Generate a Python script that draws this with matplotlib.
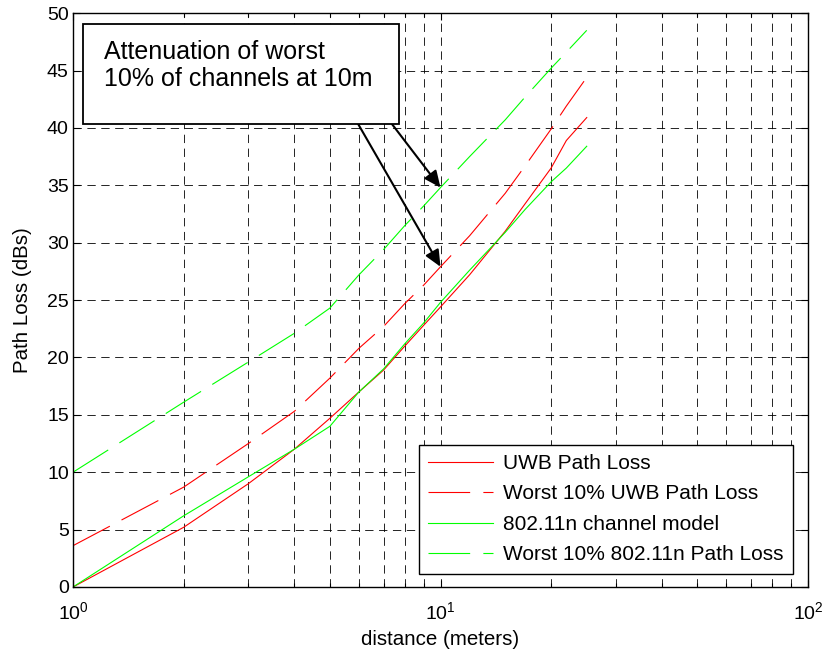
import numpy as np
import matplotlib
matplotlib.use("Agg")
from matplotlib import pyplot as plt
from matplotlib.ticker import LogLocator, MultipleLocator, NullFormatter

plt.rcParams['font.family'] = ['Liberation Sans', 'DejaVu Sans']
plt.rcParams['mathtext.default'] = 'regular'
plt.rcParams['lines.scale_dashes'] = False

# distance in meters
dist = [1, 2, 3, 4, 5, 6, 7, 8, 9, 10, 12, 15, 17, 20, 22, 25]
# path loss in dB
uwb_loss = [0, 5.2, 9.0, 12.0, 14.7, 17.0, 18.9, 21.0, 22.8, 24.4, 27.2, 31.0, 33.4, 36.5, 38.9, 40.9]
uwb_worst = [3.6, 8.7, 12.5, 15.3, 18.2, 20.8, 22.7, 24.7, 26.3, 27.9, 30.6, 34.3, 36.7, 39.9, 41.9, 44.4]
n_loss = [0, 6.2, 9.6, 12.0, 14.0, 17.0, 19.0, 21.2, 23.0, 24.8, 27.6, 30.9, 32.9, 35.3, 36.5, 38.4]
n_worst = [10, 16.1, 19.6, 22.1, 24.3, 27.2, 29.4, 31.5, 33.2, 34.8, 37.5, 40.7, 42.7, 45.2, 46.6, 48.5]

labels = ['UWB Path Loss', 'Worst 10% UWB Path Loss',
          '802.11n channel model', 'Worst 10% 802.11n Path Loss']

fig = plt.figure(figsize=(8.27, 6.56), dpi=100)
ax = fig.add_axes([0.0883, 0.1052, 0.8887, 0.8748])

long_dash = (0, (30, 9.5))
ax.semilogx(dist, uwb_loss, color='#ff0000', lw=0.8, label=labels[0])
ax.semilogx(dist, uwb_worst, color='#ff0000', lw=0.8, linestyle=long_dash, label=labels[1])
ax.semilogx(dist, n_loss, color='#00ff00', lw=0.8, label=labels[2])
ax.semilogx(dist, n_worst, color='#00ff00', lw=0.8, linestyle=long_dash, label=labels[3])

ax.set_xlim(1, 100)
ax.set_ylim(0, 50)
ax.yaxis.set_major_locator(MultipleLocator(5))
ax.xaxis.set_major_locator(LogLocator(base=10))
ax.xaxis.set_minor_locator(LogLocator(base=10, subs=np.arange(2, 10)))
ax.xaxis.set_minor_formatter(NullFormatter())

grid_style = dict(color='black', linestyle=(0, (6, 4)), linewidth=0.6)
ax.grid(True, which='major', axis='both', **grid_style)
ax.grid(True, which='minor', axis='x', **grid_style)

ax.tick_params(which='both', direction='in', top=True, right=True, labelsize=14)
ax.tick_params(which='major', length=5, width=0.8)
ax.tick_params(which='minor', length=3, width=0.8)
ax.tick_params(axis='x', pad=10)
ax.tick_params(axis='y', pad=3)
for s in ax.spines.values():
    s.set_linewidth(1.0)

ax.set_xlabel('distance (meters)', fontsize=14.8, labelpad=5)
ax.set_ylabel('Path Loss (dBs)', fontsize=14.8, labelpad=11)

leg = ax.legend(loc='lower right', bbox_to_anchor=(0.98, 0.023), borderaxespad=0,
                fontsize=15, handlelength=3.1, handletextpad=0.5, labelspacing=0.55,
                borderpad=0.45, fancybox=False, framealpha=1)
leg.get_frame().set_edgecolor('black')
leg.get_frame().set_linewidth(1.0)

# text box with the two arrows
box = plt.Rectangle((0.0136, 0.8066), 0.43, 0.1744, transform=ax.transAxes,
                    facecolor='white', edgecolor='black', lw=1.3, zorder=5)
ax.add_patch(box)
ax.text(0.042, 0.953, 'Attenuation of worst\n10% of channels at 10m', transform=ax.transAxes,
        fontsize=18, va='top', ha='left', linespacing=1.15, zorder=6)

i10 = dist.index(10)
arrow = dict(arrowstyle='-|>,head_length=1.0,head_width=0.45', color='black', lw=1.5,
             shrinkA=0, shrinkB=0)
ax.annotate('', xy=(10, uwb_worst[i10]), xytext=(0.388, 0.8066),
            textcoords='axes fraction', arrowprops=arrow, zorder=4)
ax.annotate('', xy=(10, n_worst[i10]), xytext=(0.434, 0.8066),
            textcoords='axes fraction', arrowprops=arrow, zorder=4)

fig.savefig('out.png', dpi=100)
